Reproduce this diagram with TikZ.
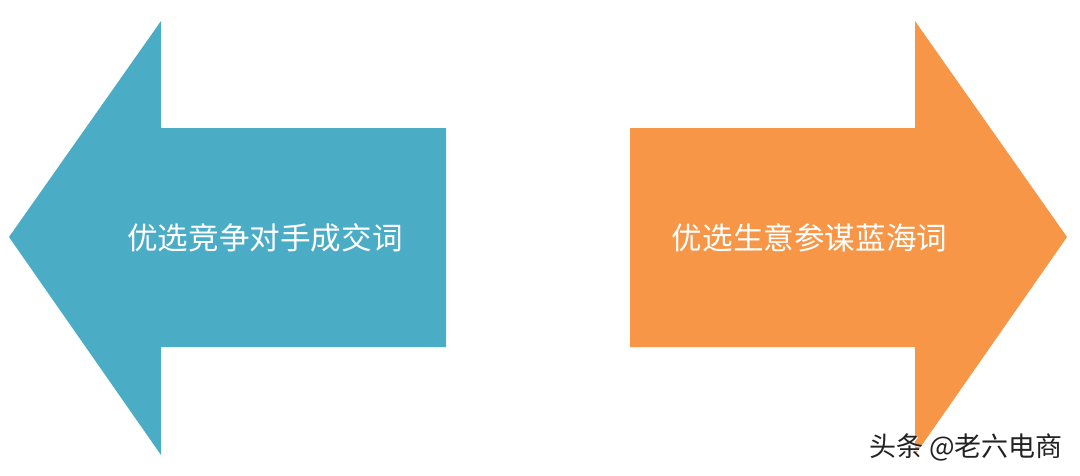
\documentclass[tikz,border=0pt]{standalone}
\usepackage{fontspec}
\newfontfamily\cjk{Noto Sans CJK SC}
\definecolor{arrowblue}{HTML}{4BACC6}
\definecolor{arroworange}{HTML}{F79646}
\definecolor{markgrey}{HTML}{222222}
\begin{document}
\begin{tikzpicture}[x=1pt,y=-1pt,
  arrowshape/.style={draw=none},
  arrowlabel/.style={text=white,font=\cjk\fontsize{30.6}{33}\selectfont,inner sep=0pt},
  watermark/.style={text=markgrey,font=\cjk\fontsize{27}{30}\selectfont,inner sep=0pt}]
\useasboundingbox (0,0) rectangle (1080,475);
\fill[white] (0,0) rectangle (1080,475);
% left arrow
\fill[arrowblue,arrowshape] (9,237) -- (161,21) -- (161,128) -- (446,128) -- (446,347) -- (161,347) -- (161,455) -- cycle;
% right arrow
\fill[arroworange,arrowshape] (1067,237) -- (915,21) -- (915,128) -- (630,128) -- (630,347) -- (915,347) -- (915,455) -- cycle;
\node[arrowlabel] (lefttext) at (265,238) {优选竞争对手成交词};
\node[arrowlabel] (righttext) at (809.5,238) {优选生意参谋蓝海词};
\node[watermark,text=white] (markshadow) at (967.5,448.5) {头条 @老六电商};
\node[watermark] (mark) at (966,447) {头条 @老六电商};
\end{tikzpicture}
\end{document}
